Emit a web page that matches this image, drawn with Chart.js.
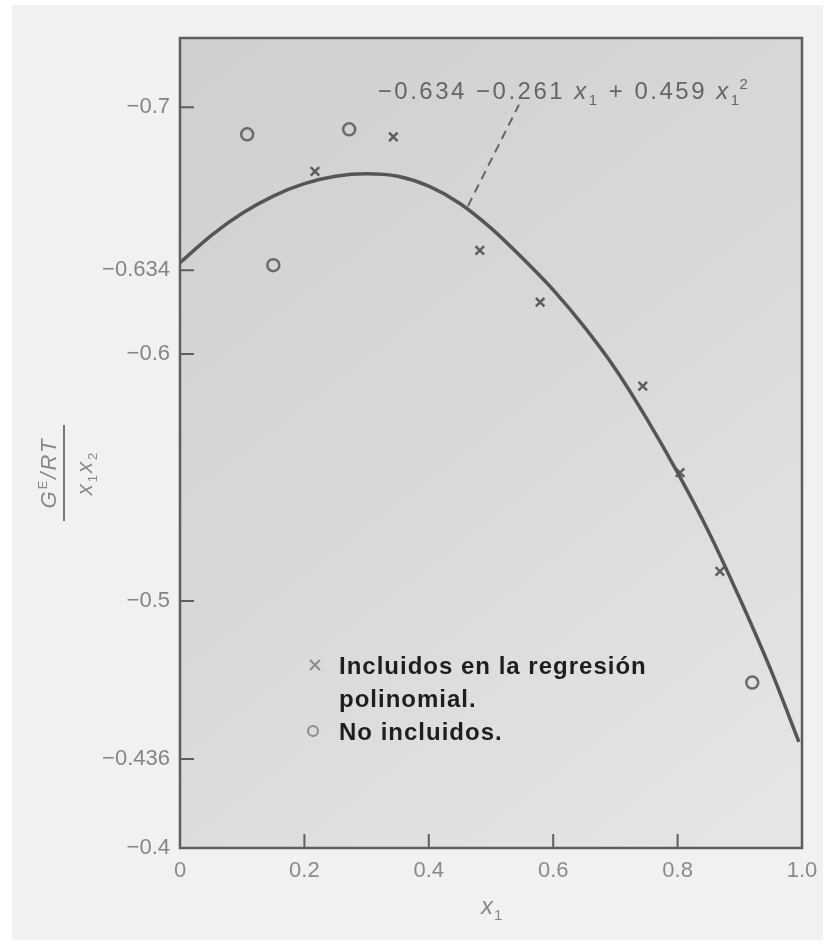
<!DOCTYPE html>
<html lang="es">
<head>
<meta charset="UTF-8">
<title>GE/RT / x1x2</title>
<style>
  html, body { margin: 0; padding: 0; background: #fff; }
  #wrap { width: 835px; height: 945px; }
</style>
</head>
<body>
<div id="wrap"><canvas id="grafica"></canvas></div>
<script src="https://cdn.jsdelivr.net/npm/chart.js"></script>
<script>
// curva ajustada
const curvaX = [0, 0.05, 0.1, 0.15, 0.2, 0.25, 0.3, 0.35, 0.4, 0.45, 0.5,
                0.55, 0.6, 0.65, 0.7, 0.75, 0.8, 0.85, 0.9, 0.95, 0.995];
const curvaY = [-0.637, -0.648, -0.657, -0.664, -0.669, -0.672, -0.673, -0.672, -0.668, -0.661, -0.651,
                -0.639, -0.626, -0.611, -0.594, -0.574, -0.552, -0.528, -0.501, -0.472, -0.443];

// puntos incluidos en la regresion (x)
const inclX = [0.217, 0.343, 0.482, 0.579, 0.744, 0.804, 0.868];
const inclY = [-0.674, -0.688, -0.642, -0.621, -0.587, -0.552, -0.512];

// puntos no incluidos (o)
const noInclX = [0.108, 0.150, 0.272, 0.920];
const noInclY = [-0.689, -0.636, -0.691, -0.467];

// linea guia (discontinua) hacia la ecuacion
const guiaX = [0.463, 0.545];
const guiaY = [-0.660, -0.701];

const xTicks = [0, 0.2, 0.4, 0.6, 0.8, 1.0];
const yTicks = [-0.7, -0.634, -0.6, -0.5, -0.436, -0.4];

const ecuacion = '\u22120.634 \u22120.261 ';
const leyenda1 = ['Incluidos en la regresión', 'polinomial.'];
const leyenda2 = 'No incluidos.';

function puntos(xs, ys) {
    return xs.map((x, i) => ({ x: x, y: ys[i] }));
}

function textoRico(ctx, partes, x, y) {
    let cx = x;
    for (const p of partes) {
        ctx.font = p.f;
        ctx.fillText(p.t, cx + (p.dx || 0), y + (p.dy || 0));
        cx += ctx.measureText(p.t).width + (p.dx || 0);
    }
}
function anchoRico(ctx, partes) {
    let w = 0;
    for (const p of partes) { ctx.font = p.f; w += ctx.measureText(p.t).width + (p.dx || 0); }
    return w;
}

const FAM = "'Liberation Sans', Arial, sans-serif";

const marco = {
    id: 'marco',
    beforeDraw(chart) {
        const { ctx, chartArea: a, width, height } = chart;
        ctx.save();
        ctx.fillStyle = '#ffffff';
        ctx.fillRect(0, 0, width, height);
        ctx.fillStyle = '#f1f1f1';
        ctx.fillRect(12, 5, width - 24, height - 10);
        const g = ctx.createLinearGradient(a.left, a.top, a.right, a.bottom);
        g.addColorStop(0, '#cfcfcf');
        g.addColorStop(0.5, '#d9d9d9');
        g.addColorStop(1, '#e6e6e6');
        ctx.fillStyle = g;
        ctx.fillRect(a.left, a.top, a.right - a.left, a.bottom - a.top);
        ctx.restore();
    },
    afterDraw(chart) {
        const { ctx, chartArea: a } = chart;
        const sx = chart.scales.x, sy = chart.scales.y;
        ctx.save();

        // marco
        ctx.strokeStyle = '#5e5e5e';
        ctx.lineWidth = 2.5;
        ctx.strokeRect(a.left, a.top, a.right - a.left, a.bottom - a.top);

        // marcas hacia dentro
        ctx.lineWidth = 2;
        ctx.beginPath();
        yTicks.forEach(v => {
            const py = sy.getPixelForValue(v);
            ctx.moveTo(a.left, py);
            ctx.lineTo(a.left + 14, py);
        });
        xTicks.forEach(v => {
            const px = sx.getPixelForValue(v);
            ctx.moveTo(px, a.bottom);
            ctx.lineTo(px, a.bottom - 14);
        });
        ctx.stroke();

        // ecuacion
        ctx.fillStyle = '#666';
        ctx.textBaseline = 'alphabetic';
        ctx.letterSpacing = '2.5px';
        const n = "24px " + FAM, it = "italic 24px " + FAM, pq = "15px " + FAM;
        textoRico(ctx, [
            { t: ecuacion, f: n },
            { t: 'x', f: it },
            { t: '1', f: pq, dy: 6 },
            { t: ' + 0.459 ', f: n },
            { t: 'x', f: it },
            { t: '1', f: pq, dy: 6 },
            { t: '2', f: pq, dy: -10, dx: -2 }
        ], sx.getPixelForValue(0.318), sy.getPixelForValue(-0.7033));

        // leyenda
        ctx.letterSpacing = '1px';
        ctx.fillStyle = '#1e1e1e';
        ctx.font = "bold 24px " + FAM;
        ctx.fillText(leyenda1[0], 339, 674);
        ctx.fillText(leyenda1[1], 339, 707);
        ctx.fillText(leyenda2, 339, 740);
        ctx.strokeStyle = '#8a8a8a';
        ctx.lineWidth = 2;
        ctx.beginPath();
        ctx.moveTo(310, 660); ctx.lineTo(320, 670);
        ctx.moveTo(320, 660); ctx.lineTo(310, 670);
        ctx.stroke();
        ctx.beginPath();
        ctx.arc(313, 731, 5, 0, Math.PI * 2);
        ctx.stroke();

        // titulo eje x
        ctx.letterSpacing = '0px';
        ctx.fillStyle = '#888';
        textoRico(ctx, [
            { t: 'x', f: "italic 24px " + FAM },
            { t: '1', f: "15px " + FAM, dy: 6, dx: 1 }
        ], 481, 914);

        // titulo eje y (fraccion girada)
        ctx.translate(64, 473);
        ctx.rotate(-Math.PI / 2);
        ctx.letterSpacing = '2px';
        const num = [
            { t: 'G', f: "italic 22px " + FAM },
            { t: 'E', f: "13px " + FAM, dy: -9 },
            { t: '/RT', f: "italic 22px " + FAM }
        ];
        const den = [
            { t: 'x', f: "italic 22px " + FAM },
            { t: '1', f: "13px " + FAM, dy: 5 },
            { t: 'x', f: "italic 22px " + FAM },
            { t: '2', f: "13px " + FAM, dy: 5 }
        ];
        textoRico(ctx, num, -anchoRico(ctx, num) / 2, -8);
        textoRico(ctx, den, -anchoRico(ctx, den) / 2, 28);
        ctx.strokeStyle = '#777';
        ctx.lineWidth = 2;
        ctx.beginPath();
        ctx.moveTo(-48, 0);
        ctx.lineTo(48, 0);
        ctx.stroke();

        ctx.restore();
    }
};

const ctxG = document.getElementById('grafica');
new Chart(ctxG, {
    type: 'scatter',
    data: {
        datasets: [{
            type: 'line',
            label: 'ajuste',
            data: puntos(curvaX, curvaY),
            borderColor: '#555',
            borderWidth: 3.5,
            pointRadius: 0,
            tension: 0.3,
            fill: false
        }, {
            type: 'line',
            label: 'guia',
            data: puntos(guiaX, guiaY),
            borderColor: '#666',
            borderWidth: 2,
            borderDash: [9, 6],
            pointRadius: 0,
            fill: false
        }, {
            label: 'Incluidos en la regresión polinomial.',
            data: puntos(inclX, inclY),
            pointStyle: 'crossRot',
            pointRadius: 6,
            borderColor: '#5e5e5e',
            borderWidth: 2.5
        }, {
            label: 'No incluidos.',
            data: puntos(noInclX, noInclY),
            pointStyle: 'circle',
            pointRadius: 6,
            borderColor: '#6a6a6a',
            backgroundColor: 'rgba(0,0,0,0)',
            borderWidth: 2.5
        }]
    },
    options: {
        responsive: true,
        maintainAspectRatio: false,
        animation: false,
        layout: { padding: { top: 38, right: 33, left: 0, bottom: 0 } },
        plugins: { legend: { display: false }, tooltip: { enabled: false } },
        scales: {
            x: {
                type: 'linear',
                min: 0,
                max: 1,
                afterBuildTicks: s => { s.ticks = xTicks.map(v => ({ value: v })); },
                afterFit: s => { s.height = 97; },
                grid: { display: false, drawTicks: false },
                border: { display: false },
                ticks: {
                    padding: 10,
                    autoSkip: false,
                    maxRotation: 0,
                    color: '#8a8a8a',
                    font: { family: FAM, size: 22 },
                    callback: v => v === 0 ? '0' : v.toFixed(1)
                }
            },
            y: {
                type: 'linear',
                reverse: true,
                min: -0.728,
                max: -0.4,
                afterBuildTicks: s => { s.ticks = yTicks.map(v => ({ value: v })); },
                afterFit: s => { s.width = 180; },
                grid: { display: false, drawTicks: false },
                border: { display: false },
                ticks: {
                    padding: 10,
                    autoSkip: false,
                    color: '#858585',
                    font: { family: FAM, size: 22 },
                    callback: v => '\u2212' + String(Math.abs(v))
                }
            }
        }
    },
    plugins: [marco]
});
</script>
</body>
</html>
